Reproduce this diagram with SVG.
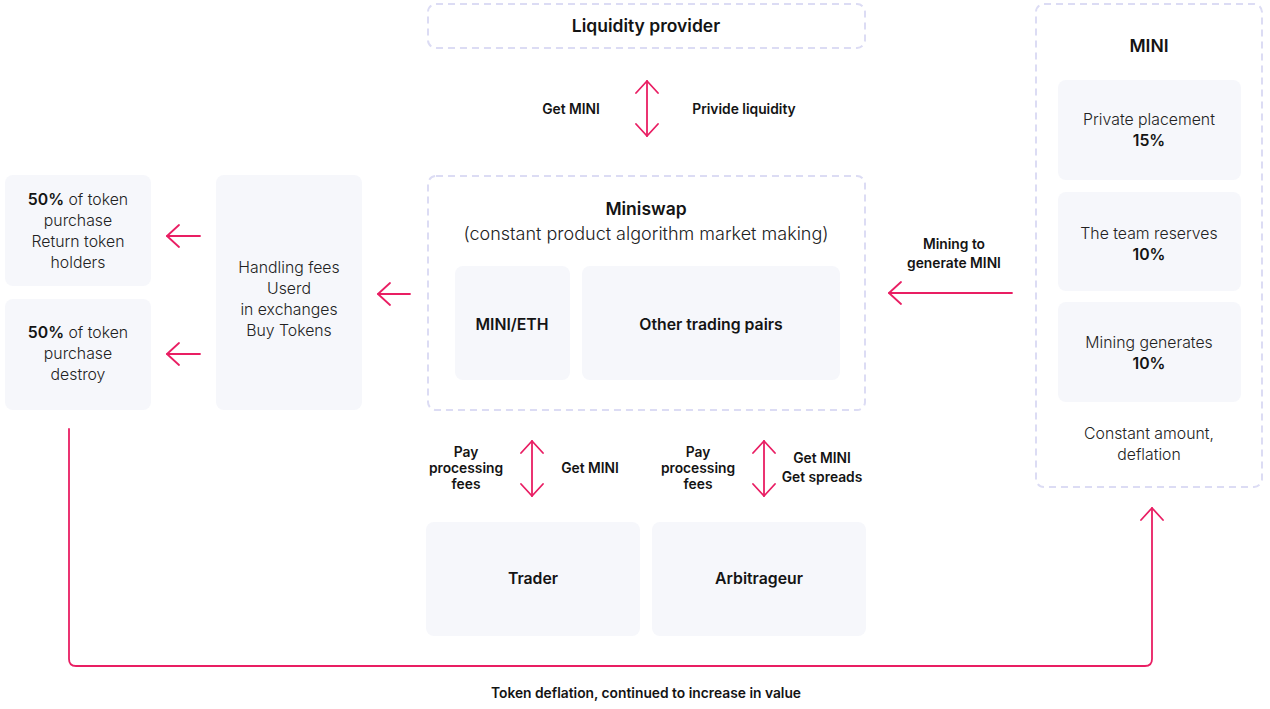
<svg xmlns="http://www.w3.org/2000/svg" width="1270" height="709" viewBox="0 0 1270 709">
<defs>
<style>
.dash{fill:#fff;stroke:#dcdcf4;stroke-width:2;stroke-dasharray:7 5}
.card{fill:#f6f7fb}
text{font-family:Inter,"Noto Sans","Liberation Sans",sans-serif;fill:#141414;text-anchor:middle}
.b{font-weight:600;font-size:13.8px}
.h{font-weight:600;font-size:17.5px}
.m{font-weight:600;font-size:15.8px}
.l{font-weight:300;font-size:15.8px;fill:#222}
.pb{font-weight:600;fill:#141414}
.arr{fill:none;stroke:#e91e63;stroke-width:1.8;stroke-linecap:round;stroke-linejoin:round}
</style>
<marker id="ah" viewBox="0 0 14 24" refX="13" refY="12" markerWidth="14" markerHeight="24" markerUnits="userSpaceOnUse" orient="auto-start-reverse">
<path d="M1 1 L13 12 L1 23" fill="none" stroke="#e91e63" stroke-width="1.8" stroke-linecap="round" stroke-linejoin="round"/>
</marker>
</defs>
<rect width="1270" height="709" fill="#fff"/>

<g id="liquidity-provider">
<rect class="dash" x="428" y="4" width="437" height="44" rx="8"/>
<text class="h" x="646" y="32">Liquidity provider</text>
</g>

<g id="miniswap">
<rect class="dash" x="428" y="176" width="437" height="234" rx="8"/>
<text class="h" x="646" y="215">Miniswap</text>
<text class="l" x="646" y="240" style="font-size:18px">(constant product algorithm market making)</text>
</g>
<g id="mini-eth">
<rect class="card" x="455" y="266" width="115" height="114" rx="8"/>
<text class="m" x="512" y="330">MINI/ETH</text>
</g>
<g id="other-pairs">
<rect class="card" x="582" y="266" width="258" height="114" rx="8"/>
<text class="m" x="711" y="330">Other trading pairs</text>
</g>

<g id="handling-fees">
<rect class="card" x="216" y="175" width="146" height="235" rx="8"/>
<text class="l" x="289" y="273">Handling fees</text>
<text class="l" x="289" y="294">Userd</text>
<text class="l" x="289" y="315">in exchanges</text>
<text class="l" x="289" y="336">Buy Tokens</text>
</g>

<g id="return-holders">
<rect class="card" x="5" y="175" width="146" height="111" rx="8"/>
<text class="l" x="78" y="205"><tspan class="pb">50%</tspan> of token</text>
<text class="l" x="78" y="226">purchase</text>
<text class="l" x="78" y="247">Return token</text>
<text class="l" x="78" y="268">holders</text>
</g>

<g id="destroy">
<rect class="card" x="5" y="299" width="146" height="111" rx="8"/>
<text class="l" x="78" y="338"><tspan class="pb">50%</tspan> of token</text>
<text class="l" x="78" y="359">purchase</text>
<text class="l" x="78" y="380">destroy</text>
</g>

<g id="mini">
<rect class="dash" x="1036" y="4" width="226" height="483" rx="8"/>
<text class="h" x="1149" y="52">MINI</text>
<rect class="card" x="1058" y="80" width="183" height="100" rx="8"/>
<text class="l" x="1149" y="125">Private placement</text>
<text class="l pb" x="1149" y="146">15%</text>
<rect class="card" x="1058" y="192" width="183" height="99" rx="8"/>
<text class="l" x="1149" y="239">The team reserves</text>
<text class="l pb" x="1149" y="260">10%</text>
<rect class="card" x="1058" y="302" width="183" height="100" rx="8"/>
<text class="l" x="1149" y="348">Mining generates</text>
<text class="l pb" x="1149" y="369">10%</text>
<text class="l" x="1149" y="439">Constant amount,</text>
<text class="l" x="1149" y="460">deflation</text>
</g>

<g id="trader">
<rect class="card" x="426" y="522" width="214" height="114" rx="8"/>
<text class="m" x="533" y="584">Trader</text>
</g>
<g id="arbitrageur">
<rect class="card" x="652" y="522" width="214" height="114" rx="8"/>
<text class="m" x="759" y="584">Arbitrageur</text>
</g>

<g id="connectors">
<path class="arr" d="M647 81 V136" marker-start="url(#ah)" marker-end="url(#ah)"/>
<path class="arr" d="M378 294 H410" marker-start="url(#ah)"/>
<path class="arr" d="M167 236 H200" marker-start="url(#ah)"/>
<path class="arr" d="M167 354 H200" marker-start="url(#ah)"/>
<path class="arr" d="M889 293 H1012" marker-start="url(#ah)"/>
<path class="arr" d="M532 441 V496" marker-start="url(#ah)" marker-end="url(#ah)"/>
<path class="arr" d="M764 441 V496" marker-start="url(#ah)" marker-end="url(#ah)"/>
<path class="arr" d="M69 429 V659 Q69 666 76 666 H1145 Q1152 666 1152 659 V508" marker-end="url(#ah)"/>
</g>

<g id="labels">
<text class="b" x="571" y="114">Get MINI</text>
<text class="b" x="744" y="114">Privide liquidity</text>
<text class="b" x="954" y="249">Mining to</text>
<text class="b" x="954" y="268">generate MINI</text>
<text class="b" x="466" y="457">Pay</text>
<text class="b" x="466" y="473">processing</text>
<text class="b" x="466" y="489">fees</text>
<text class="b" x="590" y="473">Get MINI</text>
<text class="b" x="698" y="457">Pay</text>
<text class="b" x="698" y="473">processing</text>
<text class="b" x="698" y="489">fees</text>
<text class="b" x="822" y="463">Get MINI</text>
<text class="b" x="822" y="482">Get spreads</text>
<text class="b" x="646" y="698">Token deflation, continued to increase in value</text>
</g>
</svg>
